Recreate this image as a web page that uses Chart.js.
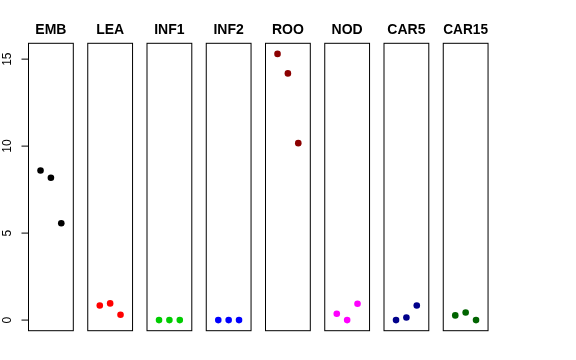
<!DOCTYPE html>
<html>
<head>
<meta charset="utf-8">
<script src="https://cdn.jsdelivr.net/npm/chart.js@4"></script>
<style>
  body { margin: 0; background: #fff; }
  #wrap { position: relative; width: 576px; height: 360px; overflow: hidden; }
  #wrap canvas { position: absolute; top: 0; }
</style>
</head>
<body>
<div id="wrap"></div>
<script>
// panel names and the three replicate points in each panel
const panelNames = ['EMB', 'LEA', 'INF1', 'INF2', 'ROO', 'NOD', 'CAR5', 'CAR15'];
const xPos = [1, 2, 3];

const valEMB   = [8.6, 8.18, 5.57];
const valLEA   = [0.84, 0.96, 0.31];
const valINF1  = [0, 0, 0];
const valINF2  = [0, 0, 0];
const valROO   = [15.3, 14.18, 10.17];
const valNOD   = [0.36, 0, 0.94];
const valCAR5  = [0, 0.15, 0.84];
const valCAR15 = [0.27, 0.44, 0];

const panelValues = [valEMB, valLEA, valINF1, valINF2, valROO, valNOD, valCAR5, valCAR15];
const panelColours = ['#000000', '#ff0000', '#00cd00', '#0000ff', '#8b0000', '#ff00ff', '#00008b', '#006400'];

const yTicks = [0, 5, 10, 15];
const yMin = -0.61, yMax = 15.91;
const xMin = -0.16, xMax = 4.16;

// layout of the panel row (in px)
const PANEL_LEFT = 28.5;
const PITCH = 59.25;
const PANEL_W = 44.8;
const AREA_TOP = 43.3;
const AREA_BOTTOM = 330.7;
const H = 360;
const FONT = "'Liberation Sans', Arial, Helvetica, sans-serif";
const TITLE_SIZE = 14;

// box around each panel
const frame = {
  id: 'frame',
  afterDatasetsDraw(chart) {
    const a = chart.chartArea;
    const ctx = chart.ctx;
    ctx.save();
    ctx.strokeStyle = '#000';
    ctx.lineWidth = 1;
    ctx.strokeRect(a.left, a.top, a.right - a.left, a.bottom - a.top);
    ctx.restore();
  }
};

// R-style left axis, only for the first panel
const leftAxis = {
  id: 'leftAxis',
  afterDraw(chart) {
    const y = chart.scales.y;
    const x0 = chart.chartArea.left;
    const ctx = chart.ctx;
    ctx.save();
    ctx.strokeStyle = '#000';
    ctx.lineWidth = 1;
    ctx.beginPath();
    ctx.moveTo(x0, y.getPixelForValue(yTicks[0]));
    ctx.lineTo(x0, y.getPixelForValue(yTicks[yTicks.length - 1]));
    yTicks.forEach(t => {
      const py = y.getPixelForValue(t);
      ctx.moveTo(x0, py);
      ctx.lineTo(x0 - 7, py);
    });
    ctx.stroke();
    ctx.fillStyle = '#000';
    ctx.font = '12px ' + FONT;
    ctx.textAlign = 'center';
    ctx.textBaseline = 'middle';
    yTicks.forEach(t => {
      const py = y.getPixelForValue(t);
      ctx.save();
      ctx.translate(8, py);
      ctx.rotate(-Math.PI / 2);
      ctx.fillText(String(t), 0, 0);
      ctx.restore();
    });
    ctx.restore();
  }
};

const wrap = document.getElementById('wrap');

panelNames.forEach((name, i) => {
  const left = PANEL_LEFT + i * PITCH;
  const cLeft = i === 0 ? 0 : Math.floor(left - 4);
  const cRight = Math.ceil(left + PANEL_W + 4);
  const cWidth = cRight - cLeft;

  const cv = document.createElement('canvas');
  cv.width = cWidth;
  cv.height = H;
  cv.style.left = cLeft + 'px';
  cv.style.width = cWidth + 'px';
  cv.style.height = H + 'px';
  wrap.appendChild(cv);

  const vals = panelValues[i];
  const col = panelColours[i];
  const lineH = TITLE_SIZE * 1.2;

  new Chart(cv.getContext('2d'), {
    type: 'scatter',
    data: {
      datasets: [{
        data: xPos.map((x, j) => ({ x: x, y: vals[j] })),
        backgroundColor: col,
        borderColor: col,
        pointRadius: 3.3,
        pointBorderWidth: 0
      }]
    },
    options: {
      responsive: false,
      animation: false,
      events: [],
      layout: {
        padding: {
          left: left - cLeft,
          right: cRight - (left + PANEL_W),
          top: 0,
          bottom: H - AREA_BOTTOM
        }
      },
      plugins: {
        legend: { display: false },
        tooltip: { enabled: false },
        title: {
          display: true,
          text: name,
          color: '#000',
          font: { family: FONT, size: TITLE_SIZE, weight: 'bold', lineHeight: 1.2 },
          padding: { top: 29.7 - lineH / 2, bottom: AREA_TOP - (29.7 + lineH / 2) }
        }
      },
      scales: {
        x: { type: 'linear', display: false, min: xMin, max: xMax },
        y: { type: 'linear', display: false, min: yMin, max: yMax }
      }
    },
    plugins: i === 0 ? [frame, leftAxis] : [frame]
  });
});
</script>
</body>
</html>
